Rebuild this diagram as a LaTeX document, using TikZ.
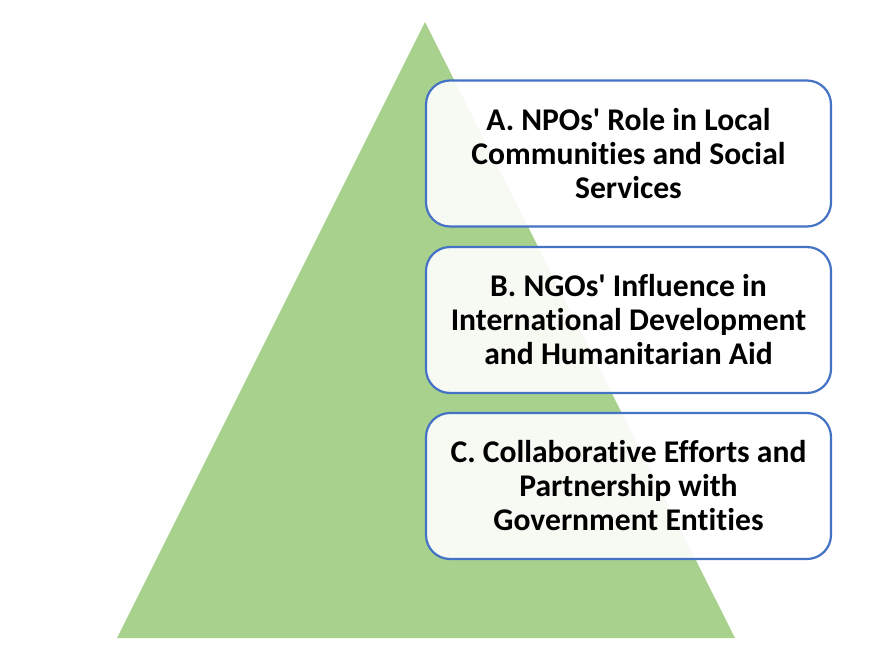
\documentclass[tikz,border=0pt]{standalone}
\usepackage{fontspec}
\setmainfont[Ligatures=NoCommon]{Carlito}
\usepackage{xcolor}
\definecolor{leafgreen}{HTML}{A9D18E}
\definecolor{boxblue}{HTML}{4472C4}
\tikzset{
	item/.style = {draw = boxblue, line width = 2.2pt, fill = white, fill opacity = .9, text opacity = 1,
		rounded corners = 24pt, minimum width = 405pt, minimum height = 146pt,
		align = center, font = \fontsize{31.6}{34}\selectfont\bfseries}
}
\begin{document}
\begin{tikzpicture}[x = 1pt, y = -1pt]
\useasboundingbox (0,0) rectangle (879,659);
%pyramid
\coordinate (top) at (425,22);
\coordinate (left) at (117,638);
\coordinate (right) at (735,638);
\fill[leafgreen] (top) -- (right) -- (left) -- cycle;
%boxes
\node[item] (npo) at (628.5,153.5){A. NPOs\textquotesingle{} Role in Local\\Communities and Social\\Services};
\node[item] (ngo) at (628.5,320){B. NGOs\textquotesingle{} Influence in\\International Development\\and Humanitarian Aid};
\node[item] (gov) at (628.5,486){C. Collaborative Efforts and\\Partnership with\\Government Entities};
\end{tikzpicture}
\end{document}
